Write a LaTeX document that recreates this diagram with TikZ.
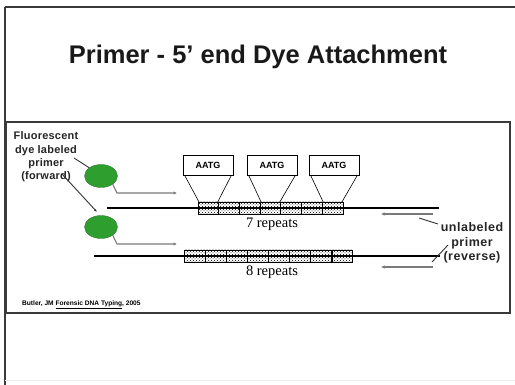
\documentclass[tikz,border=0pt]{standalone}
\usepackage{fontspec}
\setmainfont{Liberation Sans}
\newfontfamily\serifface{Liberation Serif}
\newfontfamily\widesans[LetterSpace=2]{Liberation Sans Bold}
\newfontfamily\widersans[LetterSpace=4]{Liberation Sans Bold}
\usetikzlibrary{patterns,arrows.meta,shapes.geometric}
\definecolor{framegray}{HTML}{3A3A3A}
\definecolor{dyegreen}{HTML}{2E9E2E}
\definecolor{arrowgray}{HTML}{7A7A7A}
\tikzset{
  repbox/.style={draw=black, line width=0.8pt, minimum width=20.7pt, minimum height=12pt,
    inner sep=0pt, outer sep=0pt, pattern=crosshatch dots, pattern color=black},
  motif/.style={draw=black, line width=0.7pt, minimum width=50pt, minimum height=20pt,
    inner sep=0pt, font=\fontsize{9}{10}\selectfont\bfseries},
  dye/.style={ellipse, fill=dyegreen, draw=dyegreen!70!black, line width=0.3pt,
    minimum width=33pt, minimum height=23pt, inner sep=0pt},
  strand/.style={line width=1.8pt, black},
  primer/.style={draw=arrowgray, line width=1.1pt, -{Latex[length=3.5pt,width=3.5pt]}},
  pointer/.style={draw=black!80, line width=0.9pt},
  replab/.style={font=\serifface\fontsize{14.5}{15}\selectfont, inner sep=0pt}
}
\begin{document}
\begin{tikzpicture}[x=1pt,y=-1pt]
\useasboundingbox (0,0) rectangle (515,385);
\fill[white] (0,0) rectangle (515,385);
% slide edges
\draw[framegray, line width=1.2pt] (5,7) -- (515,7);
\draw[framegray, line width=2pt] (5,7) -- (5,385);
\draw[black!8, line width=0.6pt] (5,380) -- (515,380);
% title
\node[font=\fontsize{25.5}{28}\selectfont\bfseries, text=black!90] (title) at (258,57) {Primer - 5' end Dye Attachment};
% figure panel
\draw[framegray, line width=1.8pt] (6,122) rectangle (510,313);

% upper strand with 7 repeats
\coordinate (u0) at (107,208);
\coordinate (u1) at (439,208);
\draw[strand] (u0) -- (u1);
\foreach \i in {1,...,7} {
  \node[repbox] (r\i) at ({198+20.7*(\i-0.5)},208) {};
}
\node[replab] (rep7) at (272,224) {7 repeats};

% lower strand with 8 repeats
\coordinate (l0) at (94,256);
\coordinate (l1) at (440,256);
\draw[strand] (l0) -- (l1);
\foreach \i in {1,...,8} {
  \node[repbox] (s\i) at ({184+21.1*(\i-0.5)},256) {};
}
\node[replab] (rep8) at (272,272) {8 repeats};

% AATG motifs above the upper repeats
\node[motif] (m1) at (208,165) {AATG};
\node[motif] (m2) at (272,165) {AATG};
\node[motif] (m3) at (334,165) {AATG};
\foreach \m/\r in {m1/r1, m2/r4, m3/r7} {
  \draw[black, line width=0.6pt] ([xshift=2pt]\m.south west) -- ([xshift=1pt]\r.north west);
  \draw[black, line width=0.6pt] ([xshift=-2pt]\m.south east) -- ([xshift=-1pt]\r.north east);
}

% dye-labelled forward primers
\node[dye] (d1) at (101,176) {};
\node[dye] (d2) at (101,227) {};
\coordinate (f1) at (177,193);
\coordinate (f2) at (177,244);
\draw[primer] (d1.south east) -- (117,193) -- (f1);
\draw[primer] (d2.south east) -- (117,244) -- (f2);

% unlabelled reverse primers
\coordinate (v1a) at (433,214);
\coordinate (v1b) at (381,214);
\coordinate (v2a) at (433,267);
\coordinate (v2b) at (381,267);
\draw[primer] (v1a) -- (v1b);
\draw[primer] (v2a) -- (v2b);

% labels
\node[font=\widesans\fontsize{11}{13.3}\selectfont, align=center, text=black!85, inner sep=0pt]
  (fwd) at (46,157) {Fluorescent\\dye labeled\\primer\\(forward)};
\coordinate (q1) at (74,158);
\coordinate (q2) at (62,174);
\coordinate (q3) at (97,212);
\draw[pointer] (q1) -- (d1.north west);
\draw[pointer, -{Latex[length=3pt,width=2.5pt]}] (q2) -- (q3);

\node[font=\widersans\fontsize{12.5}{14.5}\selectfont, align=center, text=black!85, inner sep=0pt]
  (rev) at (472,243) {unlabeled\\primer\\(reverse)};
\coordinate (p0) at (438,224);
\coordinate (p1) at (419,218);
\coordinate (p3) at (448,245);
\coordinate (p2) at (432,262);
\draw[pointer] (p0) -- (p1);
\draw[pointer] (p3) -- (p2);

% citation
\node[font=\fontsize{6.6}{7}\selectfont\bfseries, anchor=west, inner sep=0pt] (cite) at (22,305)
  {Butler, JM \underline{Forensic DNA Typing}, 2005};
\end{tikzpicture}
\end{document}
